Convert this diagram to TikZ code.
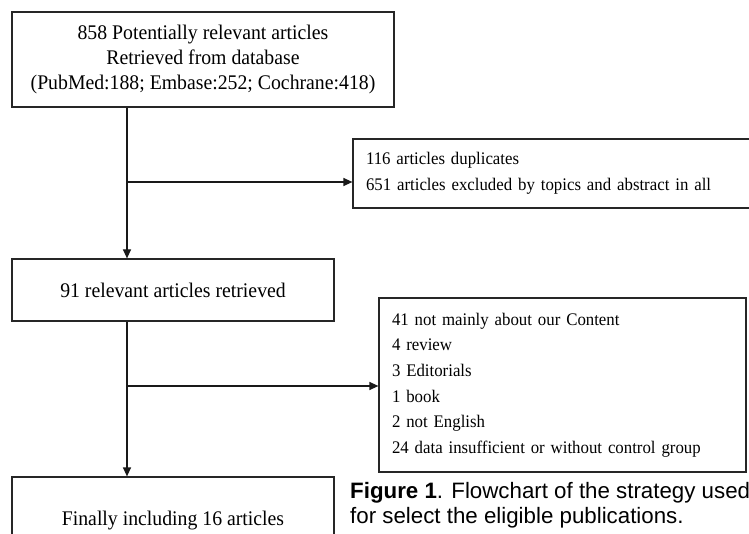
\documentclass[tikz,border=0pt]{standalone}
\usepackage{fontspec}
\setmainfont[FakeStretch=0.95]{Liberation Serif}
\newfontfamily\capfont{Liberation Sans}
\usetikzlibrary{arrows.meta}
\begin{document}
\begin{tikzpicture}[x=1pt,y=-1pt,
  box/.style={draw=black!85,line width=1.2pt,rectangle,inner sep=0pt},
  bigtext/.style={font=\fontsize{20.8}{25}\selectfont},
  smalltext/.style={font=\fontsize{17.7}{25.6}\selectfont},
  captext/.style={anchor=base west,inner sep=0pt,font=\capfont\fontsize{22.3}{25}\selectfont},
  conn/.style={line width=1.2pt,draw=black!90},
  arr/.style={conn,-{Triangle[length=9pt,width=8pt]}}]
\useasboundingbox (0,0) rectangle (749,534);
\clip (0,0) rectangle (749,534);
\fill[white] (0,0) rectangle (749,534);
\node[box,bigtext,minimum width=382pt,minimum height=95pt,align=center] (b1) at (203,59.5)
  {858 Potentially relevant articles\\Retrieved from database\\(PubMed:188; Embase:252; Cochrane:418)};
\node[box,smalltext,minimum width=417pt,minimum height=69pt,text width=391pt,align=left] (b2) at (561.5,173.5)
  {116 articles duplicates\\651 articles excluded by topics and abstract in all};
\node[box,bigtext,minimum width=322pt,minimum height=62pt,align=center] (b3) at (173,290)
  {91 relevant articles retrieved};
\node[box,smalltext,minimum width=367pt,minimum height=174pt,text width=341pt,align=left] (b4) at (562.5,385)
  {41 not mainly about our Content\\4 review\\3 Editorials\\1 book\\2 not English\\24 data insufficient or without control group};
\node[box,bigtext,minimum width=322pt,minimum height=88pt,align=center] (b5) at (173,521)
  {Finally including 16 articles};
\coordinate (j1) at (127,182);
\coordinate (j2) at (127,386);
\draw[arr] (b1.south -| j1) -- (b3.north -| j1);
\draw[arr] (j1) -- (j1 -| b2.west);
\draw[arr] (b3.south -| j2) -- (b5.north -| j2);
\draw[arr] (j2) -- (j2 -| b4.west);
\node[captext] (cap1) at (350,498) {\textbf{Figure 1}. Flowchart of the strategy used};
\node[captext] (cap2) at (350,523) {for select the eligible publications.};
\end{tikzpicture}
\end{document}
